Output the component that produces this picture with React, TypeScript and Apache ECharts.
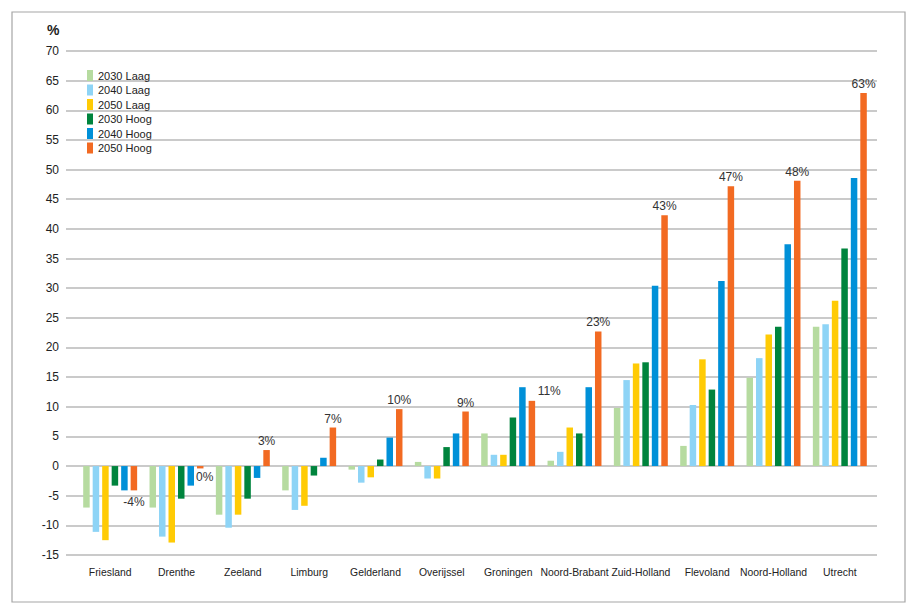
import React, { useEffect, useRef } from "react";
import * as echarts from "echarts";

const categories = [
  "Friesland", "Drenthe", "Zeeland", "Limburg", "Gelderland", "Overijssel",
  "Groningen", "Noord-Brabant", "Zuid-Holland", "Flevoland", "Noord-Holland", "Utrecht",
];
const seriesNames = ["2030 Laag", "2040 Laag", "2050 Laag", "2030 Hoog", "2040 Hoog", "2050 Hoog"];
const colors = ["#b6dba0", "#8ed4f6", "#ffcb05", "#00843d", "#0090d8", "#f26a22"];

const laag2030 = [-7.0, -7.0, -8.2, -4.1, -0.6, 0.7, 5.5, 0.9, 9.8, 3.4, 14.9, 23.5];
const laag2040 = [-11.1, -11.9, -10.4, -7.4, -2.8, -2.1, 1.9, 2.4, 14.5, 10.3, 18.2, 23.9];
const laag2050 = [-12.5, -12.9, -8.2, -6.7, -1.9, -2.1, 1.9, 6.5, 17.3, 18.0, 22.2, 27.9];
const hoog2030 = [-3.3, -5.5, -5.5, -1.6, 1.1, 3.2, 8.2, 5.5, 17.5, 12.9, 23.5, 36.7];
const hoog2040 = [-4.1, -3.3, -2.0, 1.4, 4.8, 5.5, 13.3, 13.3, 30.4, 31.2, 37.4, 48.6];
const hoog2050 = [-4.1, -0.4, 2.7, 6.5, 9.6, 9.2, 11.0, 22.7, 42.3, 47.2, 48.1, 62.9];
const hoog2050Labels = ["-4%", "0%", "3%", "7%", "10%", "9%", "11%", "23%", "43%", "47%", "48%", "63%"];

const yTicks = { min: -15, max: 70, interval: 5 };

const sans = "Liberation Sans, Arial, sans-serif";

export default function App() {
  const ref = useRef<HTMLDivElement>(null);
  useEffect(() => {
    if (!ref.current) return;
    const chart = echarts.init(ref.current, null, { renderer: "svg" });
    const allData = [laag2030, laag2040, laag2050, hoog2030, hoog2040, hoog2050];
    const labelFont = { fontFamily: sans, fontSize: 12, color: "#333" };

    const orangeData = hoog2050.map((v, i) => {
      const base: any = { value: v };
      let label: any = {
        show: true,
        position: "top",
        distance: 3,
        formatter: hoog2050Labels[i],
        ...labelFont,
      };
      if (i === 0) {
        label = { ...label, position: "bottom", distance: 6 };
      } else if (i === 1) {
        label = { ...label, position: [-1, 5], align: "left", verticalAlign: "top" };
      } else if (i === 6) {
        label = { ...label, position: [9, -16], align: "left", verticalAlign: "top" };
      }
      base.label = label;
      return base;
    });

    const series = seriesNames.map((name, si) => ({
      name,
      type: "bar",
      xAxisIndex: 1,
      yAxisIndex: 1,
      barWidth: 6.5,
      barGap: "46%",
      itemStyle: { color: colors[si] },
      data: si === 5 ? orangeData : allData[si],
    }));

    chart.setOption({
      animation: false,
      backgroundColor: "#ffffff",
      textStyle: { fontFamily: sans },
      graphic: [
        {
          type: "rect",
          shape: { x: 12, y: 12, width: 893, height: 590 },
          style: { fill: "none", stroke: "#a6a6a6", lineWidth: 1.2 },
          silent: true,
        },
        {
          type: "text",
          left: 47,
          top: 23,
          style: { text: "%", font: "bold 14px " + sans, fill: "#222" },
        },
      ],
      legend: {
        orient: "vertical",
        left: 82,
        top: 65,
        itemWidth: 6,
        itemHeight: 11,
        itemGap: 3.5,
        icon: "rect",
        textStyle: { fontSize: 11, color: "#222", fontFamily: sans, padding: [0, 0, 0, 0] },
        data: seriesNames,
      },
      grid: [
        { left: 66, right: 37, top: 51, bottom: 51 },
        { left: 77, right: 41, top: 51, bottom: 51 },
      ],
      xAxis: [
        { type: "value", gridIndex: 0, show: false, min: 0, max: 1 },
        {
          type: "category",
          gridIndex: 1,
          data: categories,
          axisLine: { show: false },
          axisTick: { show: false },
          axisLabel: { color: "#222", fontSize: 10.4, fontFamily: sans, margin: 12, interval: 0 },
        },
      ],
      yAxis: [
        {
          type: "value",
          gridIndex: 0,
          min: yTicks.min,
          max: yTicks.max,
          interval: yTicks.interval,
          axisLine: { show: false },
          axisTick: { show: false },
          axisLabel: { color: "#222", fontSize: 12, fontFamily: sans, margin: 7 },
          splitLine: { lineStyle: { color: "#b8b8b8", width: 1.5 } },
        },
        {
          type: "value",
          gridIndex: 1,
          min: yTicks.min,
          max: yTicks.max,
          interval: yTicks.interval,
          show: false,
          splitLine: { show: false },
        },
      ],
      series,
    });
    return () => chart.dispose();
  }, []);
  return <div ref={ref} style={{ width: 914, height: 606, position: "absolute", left: 0, top: 0 }} />;
}
